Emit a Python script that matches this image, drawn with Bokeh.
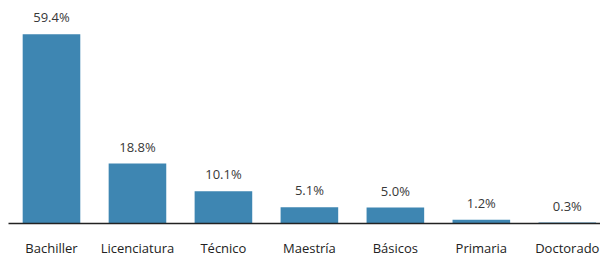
from bokeh.plotting import figure
from bokeh.models import ColumnDataSource, Range1d, FixedTicker
from bokeh.core.properties import value
from bokeh.embed import file_html
from bokeh.resources import INLINE

categories = ["Bachiller", "Licenciatura", "Técnico", "Maestría", "Básicos", "Primaria", "Doctorado"]
values = [59.4, 18.8, 10.1, 5.1, 5.0, 1.2, 0.3]
labels = ["59.4%", "18.8%", "10.1%", "5.1%", "5.0%", "1.2%", "0.3%"]

xs = list(range(len(categories)))
src = ColumnDataSource(dict(x=xs, top=values, label=labels))

p = figure(width=600, height=259, output_backend="svg", toolbar_location=None,
           x_range=Range1d(-0.5, 6.386), y_range=Range1d(0, 67.5),
           min_border_left=8, min_border_right=0, min_border_top=8, min_border_bottom=25)
p.outline_line_color = None
p.background_fill_color = "white"
p.border_fill_color = "white"
p.xgrid.visible = False
p.ygrid.visible = False
p.yaxis.visible = False

p.vbar(x="x", top="top", width=0.67, bottom=0, source=src,
       fill_color="#3E86B2", line_color=None)
p.text(x="x", y="top", text="label", source=src, text_align="center",
       text_baseline="bottom", y_offset=-8, text_font=value("Open Sans"),
       text_font_size="13px", text_color="#383838")

ax = p.xaxis[0]
ax.ticker = FixedTicker(ticks=xs)
ax.major_label_overrides = {i: c for i, c in enumerate(categories)}
ax.major_tick_line_color = None
ax.minor_tick_line_color = None
ax.axis_line_color = "#222222"
ax.axis_line_width = 1.5
ax.major_label_standoff = 9
ax.major_label_text_font = "Open Sans"
ax.major_label_text_font_size = "13px"
ax.major_label_text_color = "#222222"

open("out.html", "w").write(file_html(p, INLINE))
